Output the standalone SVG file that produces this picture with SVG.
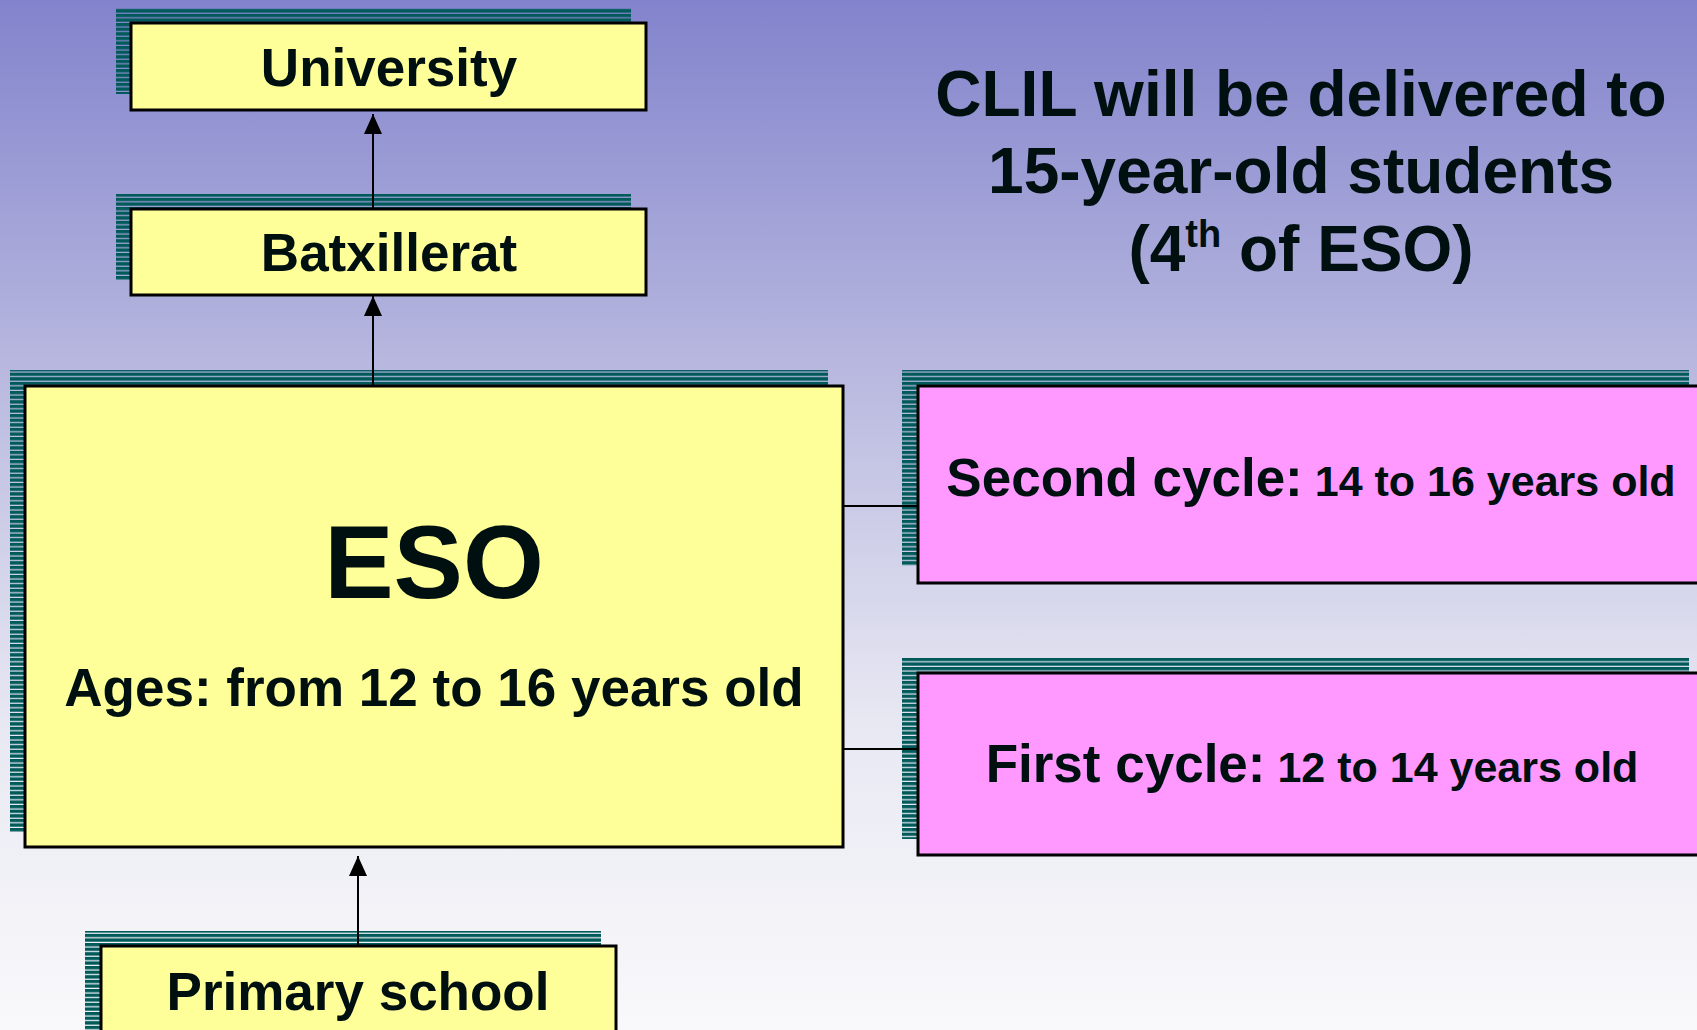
<svg xmlns="http://www.w3.org/2000/svg" width="1697" height="1030" viewBox="0 0 1697 1030">
  <defs>
    <linearGradient id="bg" x1="0" y1="0" x2="0" y2="1">
      <stop offset="0" stop-color="#8283CC"/>
      <stop offset="0.35" stop-color="#B7B7DF"/>
      <stop offset="0.7" stop-color="#E8E8F3"/>
      <stop offset="1" stop-color="#F9F9FB"/>
    </linearGradient>
    <!-- striped drop shadow behind each box -->
    <pattern id="stripes" patternUnits="userSpaceOnUse" width="20" height="4.6">
      <rect x="0" y="0" width="20" height="3.4" fill="#005A5A"/>
    </pattern>
    <marker id="arrow" viewBox="0 0 20 18" refX="20" refY="9" markerWidth="20" markerHeight="18" markerUnits="userSpaceOnUse" orient="auto">
      <path d="M0,0 L20,9 L0,18 Z" fill="#000"/>
    </marker>
  </defs>
  <style>
    .shadow { fill: url(#stripes); }
    .yellow { fill: #FFFF99; stroke: #000; stroke-width: 3; }
    .pink { fill: #FF99FF; stroke: #000; stroke-width: 3; }
    text { font-family: "Liberation Sans", Arial, sans-serif; font-weight: bold; fill: #000F0F; }
    .lbl { font-size: 53px; text-anchor: middle; }
    .title { font-size: 64px; text-anchor: middle; }
    .conn { stroke: #000; stroke-width: 2; fill: none; }
  </style>

  <rect x="0" y="0" width="1697" height="1030" fill="url(#bg)"/>

  <g id="title">
    <text class="title" x="1301" y="116">CLIL will be delivered to</text>
    <text class="title" x="1301" y="193">15-year-old students</text>
    <text class="title" x="1301" y="271">(4<tspan font-size="38" dy="-24">th</tspan><tspan dy="24"> of ESO)</tspan></text>
  </g>

  <g id="university">
    <rect class="shadow" x="116" y="8" width="515" height="86"/>
    <rect class="yellow" x="131" y="23" width="515" height="87"/>
    <text class="lbl" x="389" y="86">University</text>
  </g>

  <g id="batxillerat">
    <rect class="shadow" x="116" y="194" width="515" height="86"/>
    <rect class="yellow" x="131" y="209" width="515" height="86"/>
    <text class="lbl" x="389" y="271">Batxillerat</text>
  </g>

  <g id="eso">
    <rect class="shadow" x="10" y="370" width="818" height="462"/>
    <rect class="yellow" x="25" y="386" width="818" height="461"/>
    <text x="434" y="598" font-size="104" text-anchor="middle">ESO</text>
    <text class="lbl" x="434" y="706">Ages: from 12 to 16 years old</text>
  </g>

  <g id="second-cycle">
    <rect class="shadow" x="902" y="370" width="787" height="196"/>
    <rect class="pink" x="918" y="386" width="790" height="197"/>
    <text class="lbl" x="1311" y="496">Second cycle:<tspan font-size="43"> 14 to 16 years old</tspan></text>
  </g>

  <g id="first-cycle">
    <rect class="shadow" x="902" y="658" width="787" height="181"/>
    <rect class="pink" x="918" y="673" width="790" height="182"/>
    <text class="lbl" x="1312" y="782">First cycle:<tspan font-size="43"> 12 to 14 years old</tspan></text>
  </g>

  <g id="primary-school">
    <rect class="shadow" x="85" y="931" width="516" height="110"/>
    <rect class="yellow" x="101" y="946" width="515" height="100"/>
    <text class="lbl" x="358" y="1010">Primary school</text>
  </g>

  <g id="connectors">
    <line class="conn" x1="373" y1="209" x2="373" y2="114" marker-end="url(#arrow)"/>
    <line class="conn" x1="373" y1="385" x2="373" y2="296" marker-end="url(#arrow)"/>
    <line class="conn" x1="358" y1="945" x2="358" y2="856" marker-end="url(#arrow)"/>
    <line class="conn" x1="844" y1="506" x2="917" y2="506"/>
    <line class="conn" x1="844" y1="749" x2="917" y2="749"/>
  </g>
</svg>
